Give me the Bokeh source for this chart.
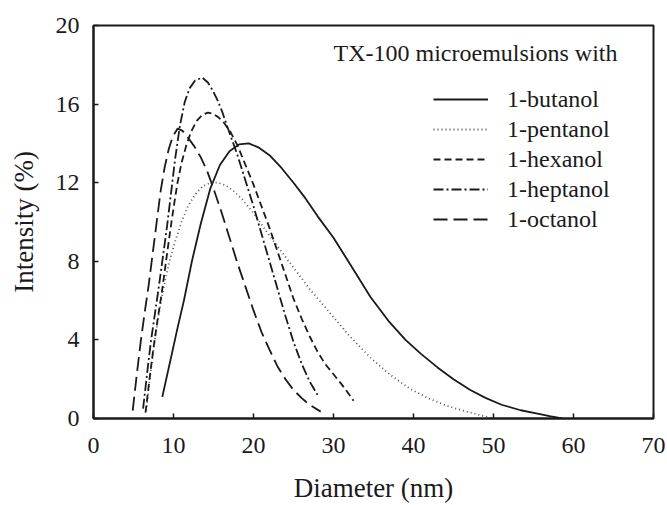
from bokeh.plotting import figure
from bokeh.models import Legend, LegendItem, Label, Range1d, FixedTicker
from bokeh.embed import file_html
from bokeh.resources import INLINE

# ---- data ----
butanol_x = [8.6, 9.2, 9.8, 10.5, 11.3, 12.3, 13.4, 14.6, 15.8, 17.0, 18.2, 19.4, 20.6, 22.0, 23.5, 25.0,
             26.5, 28.0, 30.0, 32.0, 34.6, 37.0, 39.0, 40.9, 43.0, 45.0, 47.1, 49.0, 51.0, 53.4, 55.5, 57.0, 58.6]
butanol_y = [1.1, 2.2, 3.3, 4.6, 6.0, 8.0, 9.9, 11.7, 12.9, 13.6, 13.95, 14.0, 13.8, 13.4, 12.75, 12.0,
             11.2, 10.3, 9.2, 7.9, 6.2, 4.9, 4.0, 3.3, 2.6, 2.0, 1.45, 1.05, 0.7, 0.42, 0.25, 0.12, 0.0]

pentanol_x = [6.6, 7.0, 7.5, 8.0, 8.5, 9.0, 9.5, 10.2, 11.0, 11.8, 12.7, 13.6, 14.6, 15.6, 16.6, 17.6, 18.6,
              20.0, 22.0, 24.6, 27.0, 29.6, 32.0, 34.6, 37.0, 39.6, 42.0, 44.5, 47.1, 49.0, 50.0]
pentanol_y = [0.4, 1.9, 3.5, 4.9, 6.1, 7.1, 8.0, 9.0, 10.0, 10.8, 11.4, 11.8, 12.0, 12.0, 11.85, 11.55, 11.15,
              10.45, 9.3, 7.9, 6.6, 5.35, 4.2, 3.1, 2.25, 1.5, 1.0, 0.6, 0.3, 0.1, 0.0]

hexanol_x = [6.5, 7.0, 7.5, 8.0, 8.5, 9.0, 9.5, 10.0, 10.5, 11.0, 11.6, 12.2, 12.9, 13.6, 14.3, 15.0, 15.7,
             16.4, 17.1, 18.0, 19.0, 20.0, 21.0, 22.0, 23.0, 24.0, 25.0, 26.0, 27.0, 28.0, 29.0, 30.0, 31.0,
             32.0, 32.5]
hexanol_y = [0.3, 2.0, 3.6, 5.0, 6.3, 7.8, 9.3, 10.7, 12.0, 13.0, 13.9, 14.6, 15.15, 15.45, 15.57, 15.5, 15.3,
             15.0, 14.6, 13.9, 12.9, 11.9, 10.8, 9.7, 8.5, 7.3, 6.1, 5.1, 4.2, 3.4, 2.75, 2.25, 1.75,
             1.2, 0.9]

heptanol_x = [6.2, 6.7, 7.2, 7.7, 8.2, 8.7, 9.2, 9.7, 10.2, 10.8, 11.4, 12.0, 12.7, 13.6, 14.3, 14.9, 15.5,
              16.1, 16.6, 17.3, 18.0, 19.0, 20.0, 21.0, 22.0, 23.0, 24.0, 25.0, 26.0, 27.0, 28.0]
heptanol_y = [0.5, 2.3, 4.0, 5.4, 6.8, 8.3, 9.8, 11.5, 13.2, 14.9, 16.1, 16.8, 17.2, 17.35, 17.1, 16.7, 16.2,
              15.6, 15.0, 14.2, 13.4, 12.1, 10.8, 9.4, 8.0, 6.6, 5.2, 3.9, 2.8, 1.9, 1.2]

octanol_x = [4.9, 5.4, 5.9, 6.4, 6.9, 7.4, 7.9, 8.4, 8.9, 9.4, 9.9, 10.5, 11.1, 11.8, 12.6, 13.4, 14.2, 15.0,
             16.0, 17.0, 18.0, 19.0, 20.0, 21.0, 22.0, 23.0, 24.0, 25.0, 26.0, 27.0, 28.4]
octanol_y = [0.4, 2.2, 3.9, 5.4, 6.8, 8.4, 10.0, 11.6, 12.8, 13.7, 14.35, 14.75, 14.65, 14.3, 13.85, 13.3, 12.6,
             11.7, 10.5, 9.2, 7.9, 6.7, 5.5, 4.4, 3.5, 2.65, 2.0, 1.45, 1.05, 0.7, 0.35]

series_names = ["1-butanol", "1-pentanol", "1-hexanol", "1-heptanol", "1-octanol"]
x_ticks = [0, 10, 20, 30, 40, 50, 60, 70]
y_ticks = [0, 4, 8, 12, 16, 20]
legend_title = "TX-100 microemulsions with"

FONT = "Liberation Serif"
INK = "#1a1a1a"

p = figure(width=667, height=505, output_backend="svg", toolbar_location=None,
           x_range=Range1d(0, 70), y_range=Range1d(0, 20),
           min_border_left=93, min_border_right=14, min_border_top=25, min_border_bottom=87)
p.xgrid.visible = False
p.ygrid.visible = False
p.background_fill_color = "white"
p.border_fill_color = "white"
p.outline_line_color = INK
p.outline_line_width = 2

for ax in (p.xaxis[0], p.yaxis[0]):
    ax.axis_line_color = INK
    ax.axis_line_width = 2
    ax.major_tick_line_color = INK
    ax.major_tick_line_width = 1.5
    ax.major_tick_in = 5
    ax.major_tick_out = 0
    ax.minor_tick_line_color = None
    ax.major_label_text_font = FONT
    ax.major_label_text_font_size = "24px"
    ax.major_label_text_color = INK
    ax.axis_label_text_font = FONT
    ax.axis_label_text_font_size = "27px"
    ax.axis_label_text_font_style = "normal"
    ax.axis_label_text_color = INK

p.xaxis.ticker = FixedTicker(ticks=x_ticks)
p.yaxis.ticker = FixedTicker(ticks=y_ticks)
p.xaxis.axis_label = "Diameter (nm)"
p.yaxis.axis_label = "Intensity (%)"
p.xaxis.major_label_standoff = 19
p.yaxis.major_label_standoff = 14
p.xaxis.axis_label_standoff = 17
p.yaxis.axis_label_standoff = 14

r1 = p.line(butanol_x, butanol_y, line_color=INK, line_width=1.8)
r2 = p.line(pentanol_x, pentanol_y, line_color="#555555", line_width=1.8, line_dash="1 3")
r3 = p.line(hexanol_x, hexanol_y, line_color=INK, line_width=1.8, line_dash="7 4")
r4 = p.line(heptanol_x, heptanol_y, line_color=INK, line_width=1.8, line_dash="10 3 2 3")
r5 = p.line(octanol_x, octanol_y, line_color=INK, line_width=1.8, line_dash="14 6")

items = [LegendItem(label=n, renderers=[r]) for n, r in zip(series_names, [r1, r2, r3, r4, r5])]
legend = Legend(items=items, location=(340, 185), padding=0, margin=0,
                glyph_width=55, glyph_height=28, label_height=28, spacing=2,
                label_standoff=19, label_text_font=FONT, label_text_font_size="24px",
                label_text_color=INK, border_line_color=None, background_fill_alpha=0)
p.add_layout(legend, "center")

p.add_layout(Label(x=65.5, y=18.6, text=legend_title, text_align="right", text_baseline="middle",
                   text_font=FONT, text_font_size="24px", text_color=INK))

open("out.html", "w").write(file_html(p, INLINE))
